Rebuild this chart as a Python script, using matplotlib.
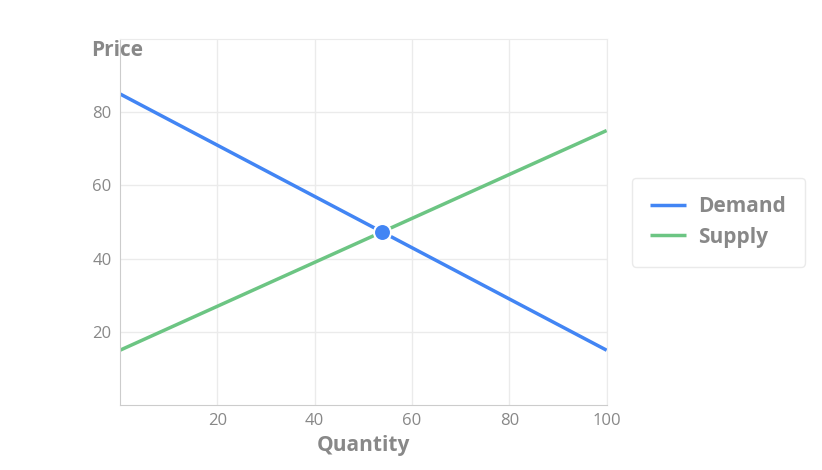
import matplotlib
matplotlib.use("Agg")
import matplotlib.pyplot as plt
import numpy as np

quantity = [0, 100]
demand = [85, 15]
supply = [15, 75]
eq_q = [53.85]
eq_p = [47.3]
xticks = [20, 40, 60, 80, 100]
yticks = [20, 40, 60, 80]

plt.rcParams['font.family'] = ['Open Sans', 'DejaVu Sans']
fig = plt.figure(figsize=(8.22, 4.70), dpi=100)
ax = fig.add_axes([0.146, 0.138, 0.592, 0.779])
ax.plot(quantity, demand, color='#4285f4', lw=2.5, label='Demand', solid_capstyle='butt')
ax.plot(quantity, supply, color='#6cc583', lw=2.5, label='Supply', solid_capstyle='butt')
ax.scatter(eq_q, eq_p, s=150, color='#4285f4', edgecolor='white', linewidth=1.5, zorder=5)
ax.set_xlim(0, 100); ax.set_ylim(0, 100)
ax.set_xticks(xticks); ax.set_yticks(yticks)
ax.grid(True, color='#ebebeb', lw=1)
ax.set_axisbelow(True)
for s in ['top', 'right']:
    ax.spines[s].set_color('#ebebeb')
for s in ['left', 'bottom']:
    ax.spines[s].set_color('#cccccc')
ax.tick_params(length=0, colors='#888888', labelsize=12, pad=6)
fig.text(0.111, 0.88, 'Price', fontsize=15, fontweight='bold', color='#888888')
fig.text(0.442, 0.04, 'Quantity', fontsize=15, fontweight='bold', color='#888888', ha='center')
leg = ax.legend(loc='center left', bbox_to_anchor=(1.03, 0.50), frameon=True, fancybox=True,
                fontsize=15, handlelength=1.7, handletextpad=0.6, borderpad=0.9, labelspacing=0.45)
leg.get_frame().set_edgecolor('#e5e5e5')
for t in leg.get_texts():
    t.set_color('#888888'); t.set_fontweight('bold')
fig.savefig('out.png', dpi=100)
